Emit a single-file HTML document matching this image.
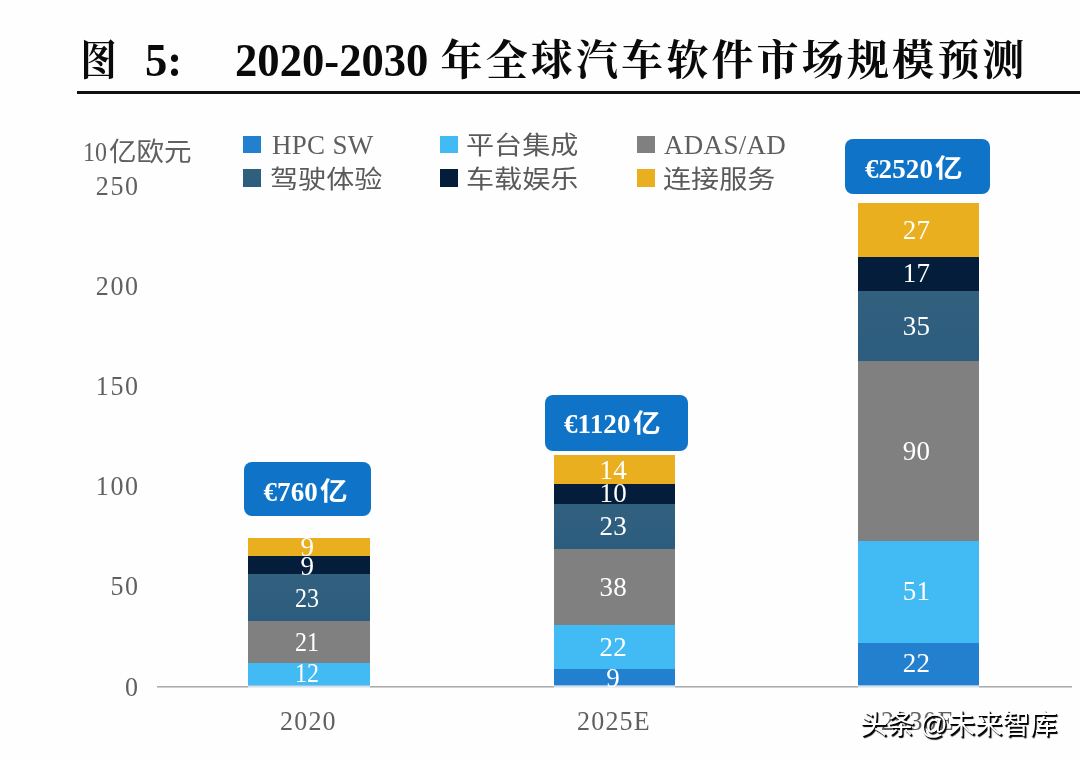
<!DOCTYPE html>
<html lang="zh-CN">
<head>
<meta charset="utf-8">
<title>图 5: 2020-2030 年全球汽车软件市场规模预测</title>
<style>
html,body{margin:0;padding:0;background:#fefefe;}
body{width:1080px;height:759px;position:relative;overflow:hidden;
  font-family:"Liberation Serif","Noto Sans CJK SC",serif;color:#666;}
.t,.seg,.sw,.lg,.yl,.xl,.call,.v,.unit{position:absolute;white-space:nowrap;margin:0;padding:0;}

/* ---- title ---- */
h1{margin:0;padding:0;height:0;font-size:0;line-height:0;}
.t{top:32px;height:52px;line-height:52px;font-size:45px;font-weight:bold;color:#0a0a0a;
  font-family:"Liberation Serif","Noto Serif CJK SC",serif;}
.t.la{transform:scale(.992,1.055);transform-origin:0 41px;top:34.5px;}
.t.cn{top:34.5px;font-size:42px;letter-spacing:3.15px;}
.rule{position:absolute;left:77px;top:91px;width:1003px;height:3px;background:#111;}

/* ---- legend ---- */
.sw{width:18px;height:17px;}
.lg{font-size:27px;line-height:30px;height:30px;color:#5e5e5e;letter-spacing:.3px;
  transform:scaleY(1.05);transform-origin:0 24px;}
.lg.cn{font-family:"Liberation Serif","Noto Sans CJK SC",sans-serif;font-size:26px;letter-spacing:0;color:#5a5a5a;
  transform:scale(1.08,.96);transform-origin:0 50%;margin:1.3px 0 0 -1.3px;}
.unit{font-family:"Liberation Serif","Noto Sans CJK SC",sans-serif;font-size:26px;line-height:30px;height:30px;color:#606060;}
.unit b{font-weight:normal;position:absolute;left:0;top:0;transform:scale(.92,1.07);transform-origin:0 24px;}
.unit i{font-style:normal;position:absolute;left:26px;top:0;transform:scaleX(1.06);transform-origin:0 50%;}

/* ---- axes ---- */
.yl{font-size:26px;line-height:30px;height:30px;width:62px;left:77.6px;text-align:right;color:#606060;letter-spacing:1.6px;
  transform:scaleY(1.07);transform-origin:0 24px;}
.xl{font-size:26px;line-height:30px;height:30px;color:#606060;letter-spacing:1.2px;
  transform:scaleY(1.07);transform-origin:0 24px;}
.axis{position:absolute;left:157px;top:686px;width:915px;height:1px;background:#adadad;box-shadow:0 1px 0 #cfcfcf;}

/* ---- bars ---- */
.seg{width:121px;}
.bt{box-shadow:0 1px 0 #9cc4e6,0 2px 0 #d3dfea,0 3px 0 #e8eef4;}
.c1{background:#2280ce;}
.c2{background:#42baf3;}
.c3{background:#808080;}
.c4{background:linear-gradient(#32617f,#2c5c7e);}
.c5{background:#041d3a;}
.c6{background:#e9af1f;}
.v{font-size:27px;line-height:30px;height:30px;width:121px;text-align:center;color:#fff;letter-spacing:.3px;
  transform:scaleY(1.05);transform-origin:0 24px;}

.v.n{transform:scale(.89,1.05);transform-origin:50% 24px;letter-spacing:0;width:122px;}

/* ---- callouts ---- */
.call{background:#0f73c8;border-radius:8px;color:#fff;font-weight:bold;font-size:27px;letter-spacing:.1px;
  font-family:"Liberation Serif","Noto Sans CJK SC",serif;}
.call span{position:absolute;left:0;top:0;white-space:nowrap;}
.call em{font-style:normal;font-size:25px;letter-spacing:0;margin-left:2px;display:inline-block;transform:scaleX(1.1);transform-origin:0 50%;position:relative;top:-1px;}

/* ---- watermark ---- */
.wm{position:absolute;left:860px;top:707.5px;font-size:27.4px;line-height:34px;white-space:nowrap;word-spacing:-2.5px;
  font-family:"Liberation Sans","Noto Sans CJK SC",sans-serif;font-weight:400;color:#fff;
  text-shadow:1px 1px 0 #000, 1.7px 1.7px 1px #000;}
</style>
</head>
<body>

<h1><span class="t cn" style="left:79.5px;transform:scale(.86,1);transform-origin:4px 50%">图</span> <span class="t la" style="left:145px">5:</span> <span class="t la" style="left:235px">2020-2030</span> <span class="t cn" style="left:440.5px">年全球汽车软件市场规模预测</span></h1>
<div class="rule"></div>

<!-- legend -->
<div class="sw c1" style="left:243px;top:136px"></div><div class="lg" style="left:272px;top:130px">HPC SW</div>
<div class="sw c2" style="left:440px;top:136px"></div><div class="lg cn" style="left:467px;top:130px">平台集成</div>
<div class="sw c3" style="left:637px;top:136px"></div><div class="lg" style="left:664px;top:130px">ADAS/AD</div>
<div class="sw c4" style="left:243px;top:169px;height:18px"></div><div class="lg cn" style="left:271px;top:164px">驾驶体验</div>
<div class="sw c5" style="left:440px;top:169px;height:18px"></div><div class="lg cn" style="left:467px;top:164px">车载娱乐</div>
<div class="sw c6" style="left:637px;top:169px;height:18px"></div><div class="lg cn" style="left:664px;top:164px">连接服务</div>

<!-- y axis -->
<div class="unit" style="left:83px;top:138px"><b>10</b><i>亿欧元</i></div>
<div class="yl" style="top:172px">250</div>
<div class="yl" style="top:272px">200</div>
<div class="yl" style="top:372px">150</div>
<div class="yl" style="top:471.5px">100</div>
<div class="yl" style="top:571.5px">50</div>
<div class="yl" style="top:672.8px">0</div>
<div class="axis"></div>

<!-- bar 2020 -->
<div class="seg c6" style="left:248px;top:538px;height:18px;width:122px"></div>
<div class="seg c5" style="left:248px;top:556px;height:18px;width:122px"></div>
<div class="seg c4" style="left:248px;top:574px;height:47px;width:122px"></div>
<div class="seg c3" style="left:248px;top:621px;height:42px;width:122px"></div>
<div class="seg c2 bt" style="left:248px;top:663px;height:22px;width:122px"></div>
<div class="v" style="left:247px;top:532px">9</div>
<div class="v" style="left:247px;top:551px">9</div>
<div class="v n" style="left:246px;top:583px">23</div>
<div class="v n" style="left:246px;top:627px">21</div>
<div class="v n" style="left:246px;top:658px">12</div>
<div class="call" style="left:244px;top:462px;width:127px;height:54px;line-height:54px"><span style="left:19.5px;top:2.5px">€760<em>亿</em></span></div>
<div class="xl" style="left:280px;top:707px">2020</div>

<!-- bar 2025E -->
<div class="seg c6" style="left:554px;top:455px;height:29px"></div>
<div class="seg c5" style="left:554px;top:484px;height:20px"></div>
<div class="seg c4" style="left:554px;top:504px;height:45px"></div>
<div class="seg c3" style="left:554px;top:549px;height:76px"></div>
<div class="seg c2" style="left:554px;top:625px;height:44px"></div>
<div class="seg c1 bt" style="left:554px;top:669px;height:16px"></div>
<div class="v" style="left:552.7px;top:455px">14</div>
<div class="v" style="left:552.7px;top:478px">10</div>
<div class="v" style="left:552.7px;top:511px">23</div>
<div class="v" style="left:552.7px;top:572px">38</div>
<div class="v" style="left:552.7px;top:632px">22</div>
<div class="v" style="left:552.7px;top:663px">9</div>
<div class="call" style="left:545px;top:395px;width:142.5px;height:56px;line-height:56px"><span style="left:19px;top:.5px">€1120<em>亿</em></span></div>
<div class="xl" style="left:577px;top:707px">2025E</div>

<!-- bar 2030E -->
<div class="seg c6" style="left:858px;top:203px;height:54px"></div>
<div class="seg c5" style="left:858px;top:257px;height:34px"></div>
<div class="seg c4" style="left:858px;top:291px;height:70px"></div>
<div class="seg c3" style="left:858px;top:361px;height:180px"></div>
<div class="seg c2" style="left:858px;top:541px;height:102px"></div>
<div class="seg c1 bt" style="left:858px;top:643px;height:42px"></div>
<div class="v" style="left:856px;top:215px">27</div>
<div class="v" style="left:856px;top:258px">17</div>
<div class="v" style="left:856px;top:311px">35</div>
<div class="v" style="left:856px;top:436px">90</div>
<div class="v" style="left:856px;top:576px">51</div>
<div class="v" style="left:856px;top:648px">22</div>
<div class="call" style="left:845px;top:139px;width:145px;height:55px;line-height:55px"><span style="left:20px;top:3px">€2520<em>亿</em></span></div>
<div class="xl" style="left:881px;top:707px">2030E</div>

<div class="wm">头条 @未来智库</div>

</body>
</html>
